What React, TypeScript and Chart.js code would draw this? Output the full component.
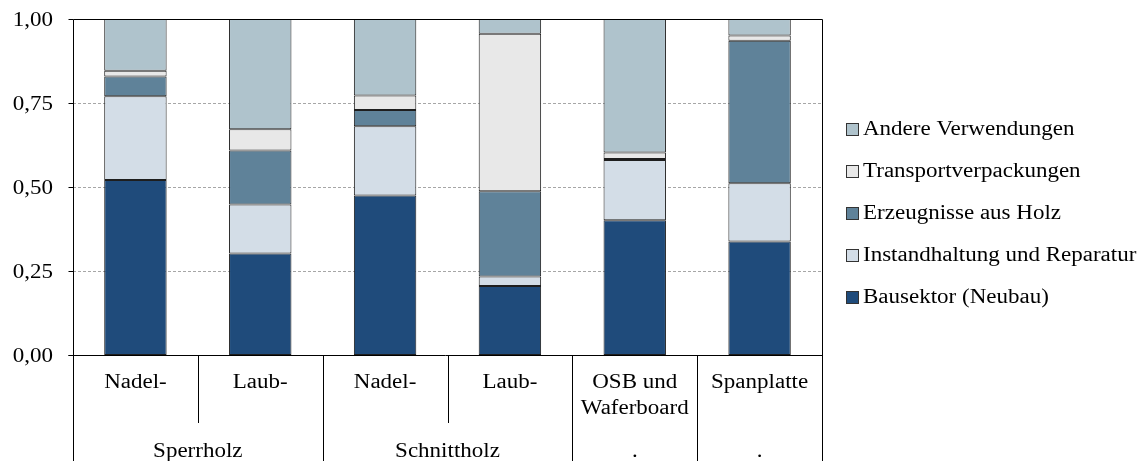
import { useEffect, useRef } from 'react';
import { Chart, registerables } from 'chart.js';

Chart.register(...registerables);

// ---- data ----
const categories: (string | string[])[] = ['Nadel-', 'Laub-', 'Nadel-', 'Laub-', ['OSB und', 'Waferboard'], 'Spanplatte'];
const groups = ['Sperrholz', 'Schnittholz', '.', '.'];
const groupSpans = [2, 2, 1, 1];
const seriesNames = ['Bausektor (Neubau)', 'Instandhaltung und Reparatur', 'Erzeugnisse aus Holz', 'Transportverpackungen', 'Andere Verwendungen'];
const bausektor = [0.521, 0.302, 0.475, 0.205, 0.401, 0.338];
const instandhaltung = [0.249, 0.146, 0.206, 0.029, 0.179, 0.173];
const erzeugnisse = [0.059, 0.161, 0.048, 0.253, 0.003, 0.424];
const transport = [0.017, 0.063, 0.043, 0.469, 0.02, 0.016];
const andere = [0.154, 0.328, 0.228, 0.044, 0.397, 0.049];
const yTicks = [0, 0.25, 0.5, 0.75, 1];

const colors = ['#1F4B7B', '#D3DDE7', '#5F8299', '#E8E8E8', '#AFC3CC'];
const FONT = '"Liberation Serif", "Times New Roman", serif';
const FS = 20;
const SX = 1.15; // horizontal text stretch of the reference

function stretchedText(ctx: CanvasRenderingContext2D, text: string, x: number, y: number, align: 'left' | 'center' | 'right') {
  ctx.save();
  ctx.translate(x, y);
  ctx.scale(SX, 1);
  ctx.textAlign = align;
  ctx.fillText(text, 0, 0);
  ctx.restore();
}

const customPlugin = {
  id: 'custom',
  beforeDatasetsDraw(chart: any) {
    const { ctx, chartArea } = chart;
    const y = chart.scales.y;
    ctx.save();
    ctx.strokeStyle = '#A6A6A6';
    ctx.lineWidth = 1;
    ctx.setLineDash([3, 2]);
    yTicks.forEach((t) => {
      if (t === 0 || t === 1) return;
      const py = Math.round(y.getPixelForValue(t)) + 0.5;
      ctx.beginPath();
      ctx.moveTo(chartArea.left, py);
      ctx.lineTo(chartArea.right, py);
      ctx.stroke();
    });
    ctx.restore();
  },
  afterDraw(chart: any) {
    const { ctx, chartArea } = chart;
    const x = chart.scales.x;
    const y = chart.scales.y;
    const H = chart.height;
    ctx.save();
    ctx.strokeStyle = '#000';
    ctx.lineWidth = 1;
    ctx.setLineDash([]);
    const L = Math.round(chartArea.left) + 0.5;
    const R = Math.round(chartArea.right) + 0.5;
    const T = Math.round(chartArea.top) + 0.5;
    const B = Math.round(chartArea.bottom) + 0.5;
    // plot frame
    ctx.beginPath();
    ctx.moveTo(L, B);
    ctx.lineTo(L, T);
    ctx.lineTo(R, T);
    ctx.lineTo(R, B);
    ctx.moveTo(L - 5, B);
    ctx.lineTo(R, B);
    ctx.stroke();

    // y ticks + labels
    ctx.fillStyle = '#000';
    ctx.font = `${FS}px ${FONT}`;
    ctx.textBaseline = 'middle';
    yTicks.forEach((t) => {
      const py = Math.round(y.getPixelForValue(t)) + 0.5;
      ctx.beginPath();
      ctx.moveTo(L - 5, py);
      ctx.lineTo(L, py);
      ctx.stroke();
      stretchedText(ctx, t.toFixed(2).replace('.', ','), chartArea.left - 20, py + 1, 'right');
    });

    // category boundaries
    const n = categories.length;
    const bounds: number[] = [];
    for (let i = 0; i <= n; i++) {
      if (i === 0) bounds.push(chartArea.left);
      else if (i === n) bounds.push(chartArea.right);
      else bounds.push((x.getPixelForValue(i - 1) + x.getPixelForValue(i)) / 2);
    }
    const groupEdges = new Set<number>([0]);
    let acc = 0;
    groupSpans.forEach((s) => { acc += s; groupEdges.add(acc); });
    const bottom = chartArea.bottom;
    for (let i = 0; i <= n; i++) {
      const px = Math.round(bounds[i]) + 0.5;
      const endY = groupEdges.has(i) ? H : bottom + 68;
      ctx.beginPath();
      ctx.moveTo(px, bottom);
      ctx.lineTo(px, endY);
      ctx.stroke();
    }

    // category labels
    categories.forEach((c, i) => {
      const cx = x.getPixelForValue(i);
      const lines = Array.isArray(c) ? c : [c];
      lines.forEach((l, j) => stretchedText(ctx, l, cx, bottom + 28 + j * 26, 'center'));
    });
    // group labels
    let start = 0;
    groups.forEach((g, k) => {
      const end = start + groupSpans[k];
      const cx = (bounds[start] + bounds[end]) / 2;
      stretchedText(ctx, g, cx, bottom + 97, 'center');
      start = end;
    });

    // legend (reverse order)
    const legendX = chartArea.right + 24;
    const legendTop = 129;
    for (let k = seriesNames.length - 1, r = 0; k >= 0; k--, r++) {
      const cy = legendTop + r * 42;
      ctx.fillStyle = colors[k];
      ctx.fillRect(legendX, cy - 6, 12, 12);
      ctx.strokeStyle = '#333';
      ctx.strokeRect(legendX + 0.5, cy - 5.5, 12, 12);
      ctx.fillStyle = '#000';
      stretchedText(ctx, seriesNames[k], legendX + 17, cy + 1, 'left');
    }
    ctx.restore();
  },
};

export default function App() {
  const ref = useRef<HTMLCanvasElement>(null);
  useEffect(() => {
    document.body.style.margin = '0';
    const allData = [bausektor, instandhaltung, erzeugnisse, transport, andere];
    const chart = new Chart(ref.current!, {
      type: 'bar',
      data: {
        labels: categories.map((c) => (Array.isArray(c) ? c.join(' ') : c)),
        datasets: seriesNames.map((name, k) => ({
          label: name,
          data: allData[k],
          backgroundColor: colors[k],
          borderColor: '#1E1E1E',
          borderWidth: 1,
          borderSkipped: false,
          categoryPercentage: 1,
          barPercentage: 0.5,
        })),
      },
      options: {
        responsive: false,
        animation: false,
        layout: { padding: { left: 0, right: 315, top: 19, bottom: 98 } },
        plugins: { legend: { display: false }, tooltip: { enabled: false } },
        scales: {
          x: {
            stacked: true,
            ticks: { display: false },
            grid: { display: false },
            border: { display: false },
          },
          y: {
            stacked: true,
            min: 0,
            max: 1,
            afterFit: (s: any) => { s.width = 73; },
            ticks: { display: false, stepSize: 0.25 },
            grid: { display: false },
            border: { display: false },
          },
        },
      },
      plugins: [customPlugin],
    });
    return () => chart.destroy();
  }, []);
  return (
    <div style={{ position: 'absolute', left: 0, top: 0, width: 1137, height: 461 }}>
      <canvas ref={ref} width={1137} height={461} style={{ display: 'block' }} />
    </div>
  );
}
